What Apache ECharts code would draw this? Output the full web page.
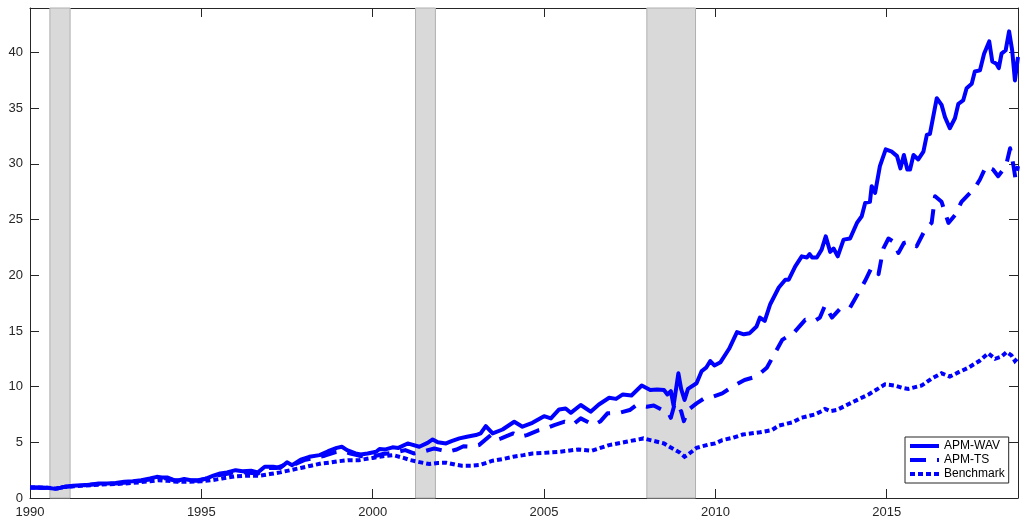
<!DOCTYPE html>
<html>
<head>
<meta charset="utf-8">
<script src="https://cdn.jsdelivr.net/npm/echarts@6/dist/echarts.min.js"></script>
<style>
html,body{margin:0;padding:0;background:#fff;}
#c{width:1021px;height:529px;}
</style>
</head>
<body>
<div id="c"></div>
<script>
// ---- data ----
const seriesNames = ['APM-WAV', 'APM-TS', 'Benchmark'];
const xTickLabels = ['1990', '1995', '2000', '2005', '2010', '2015'];
const yTickLabels = ['0', '5', '10', '15', '20', '25', '30', '35', '40'];

const recessionStart = [1990.58, 2001.25, 2008.0];
const recessionEnd   = [1991.17, 2001.83, 2009.42];

const wavDates = [1990.0,1990.25,1990.5,1990.75,1991.0,1991.25,1991.5,1991.75,1992.0,1992.25,1992.5,1992.75,1993.0,1993.25,1993.5,1993.7,1993.85,1994.0,1994.2,1994.35,1994.5,1994.7,1994.9,1995.1,1995.35,1995.55,1995.75,1996.0,1996.2,1996.45,1996.65,1996.85,1997.1,1997.3,1997.5,1997.65,1997.9,1998.15,1998.45,1998.7,1998.95,1999.1,1999.25,1999.5,1999.65,1999.85,2000.1,2000.2,2000.35,2000.58,2000.75,2001.02,2001.36,2001.6,2001.75,2001.9,2002.14,2002.3,2002.53,2002.75,2003.01,2003.15,2003.3,2003.5,2003.79,2004.13,2004.37,2004.66,2005.0,2005.2,2005.44,2005.63,2005.78,2006.07,2006.36,2006.6,2006.9,2007.1,2007.3,2007.55,2007.85,2008.1,2008.3,2008.5,2008.6,2008.7,2008.78,2008.92,2009.0,2009.1,2009.2,2009.45,2009.6,2009.73,2009.85,2009.97,2010.15,2010.4,2010.63,2010.83,2011.0,2011.2,2011.3,2011.44,2011.6,2011.85,2012.04,2012.14,2012.33,2012.52,2012.67,2012.75,2012.82,2012.96,2013.1,2013.22,2013.35,2013.45,2013.57,2013.74,2013.93,2014.13,2014.27,2014.37,2014.51,2014.56,2014.66,2014.8,2014.97,2015.15,2015.3,2015.4,2015.5,2015.6,2015.68,2015.78,2015.92,2016.07,2016.17,2016.26,2016.46,2016.6,2016.7,2016.84,2016.99,2017.09,2017.23,2017.33,2017.48,2017.57,2017.72,2017.84,2017.99,2018.08,2018.2,2018.27,2018.35,2018.47,2018.57,2018.66,2018.74,2018.83];
const wavValues = [0.95,0.95,0.92,0.82,1.0,1.1,1.15,1.2,1.3,1.3,1.35,1.45,1.5,1.6,1.75,1.9,1.85,1.85,1.6,1.6,1.7,1.6,1.6,1.7,2.0,2.2,2.3,2.5,2.4,2.45,2.3,2.8,2.8,2.7,3.2,2.95,3.45,3.7,3.85,4.2,4.5,4.6,4.3,4.0,3.9,4.0,4.15,4.4,4.35,4.55,4.5,4.9,4.6,4.95,5.26,5.0,4.9,5.1,5.35,5.5,5.65,5.8,6.45,5.8,6.15,6.85,6.4,6.75,7.35,7.15,7.95,8.04,7.65,8.35,7.75,8.4,9.0,8.9,9.3,9.2,10.1,9.7,9.75,9.7,9.3,9.6,8.3,11.2,9.8,8.8,9.8,10.3,11.4,11.7,12.3,11.9,12.2,13.4,14.9,14.7,14.8,15.4,16.2,15.9,17.4,18.9,19.6,19.6,20.8,21.7,21.6,21.9,21.6,21.6,22.3,23.5,22.1,22.4,21.7,23.2,23.3,24.7,25.3,26.5,26.6,28.0,27.4,29.8,31.3,31.1,30.7,29.6,30.8,29.5,29.5,30.8,30.4,31.1,32.6,32.7,35.9,35.3,34.2,33.2,34.1,35.4,35.7,36.8,37.2,38.3,38.4,39.9,41.0,39.2,39.0,38.6,39.9,40.2,41.9,40.2,37.5,39.6];

const tsDates = [1990.0,1990.5,1990.75,1991.0,1991.5,1992.0,1992.5,1993.0,1993.5,1993.75,1994.0,1994.25,1994.5,1994.9,1995.25,1995.5,1995.8,1996.0,1996.3,1996.65,1996.9,1997.2,1997.5,1997.75,1998.0,1998.3,1998.6,1998.9,1999.1,1999.35,1999.6,1999.85,2000.05,2000.3,2000.6,2000.95,2001.2,2001.45,2001.8,2002.0,2002.2,2002.45,2002.65,2002.9,2003.1,2003.45,2003.6,2003.75,2004.1,2004.3,2004.5,2004.85,2005.1,2005.3,2005.6,2005.85,2006.07,2006.45,2006.65,2006.85,2007.2,2007.5,2007.7,2008.0,2008.2,2008.45,2008.6,2008.7,2008.8,2008.88,2009.0,2009.08,2009.2,2009.45,2009.65,2009.85,2010.2,2010.5,2010.85,2011.2,2011.5,2011.7,2011.95,2012.1,2012.28,2012.62,2012.9,2013.05,2013.2,2013.4,2013.64,2013.93,2014.17,2014.37,2014.56,2014.76,2014.9,2015.05,2015.2,2015.34,2015.5,2015.63,2015.87,2016.12,2016.31,2016.41,2016.6,2016.8,2016.99,2017.18,2017.43,2017.6,2017.72,2017.9,2018.1,2018.25,2018.4,2018.5,2018.6,2018.7,2018.76,2018.83];
const tsValues = [0.95,0.9,0.82,1.0,1.12,1.25,1.3,1.45,1.65,1.8,1.75,1.55,1.6,1.55,1.85,2.05,2.2,2.35,2.3,2.2,2.7,2.7,3.05,3.05,3.4,3.6,3.8,4.1,4.2,4.0,3.8,3.7,3.75,3.95,4.05,4.3,4.0,4.15,4.45,4.3,4.15,4.35,4.65,4.6,4.75,5.65,5.2,5.35,5.8,5.5,5.65,6.1,6.3,6.55,6.85,6.6,7.15,6.55,6.9,7.6,7.65,7.9,8.35,8.2,8.3,7.9,7.8,7.2,8.3,7.6,7.8,6.9,7.9,8.5,8.9,9.0,9.4,10.0,10.6,10.9,11.7,12.8,14.2,14.5,14.8,16.0,15.9,16.2,17.3,16.2,17.0,17.1,18.4,19.5,20.7,20.1,22.4,23.3,23.0,22.0,22.9,23.0,22.6,24.1,24.7,27.1,26.6,24.7,25.4,26.6,27.4,28.0,28.6,29.8,29.5,28.9,29.5,30.1,31.4,29.8,28.6,29.8];

const bmDates = [1990.0,1990.5,1990.75,1991.0,1991.5,1992.0,1992.5,1993.0,1993.5,1993.75,1994.0,1994.3,1994.6,1995.0,1995.3,1995.6,1996.0,1996.3,1996.7,1997.0,1997.3,1997.6,1997.9,1998.2,1998.5,1998.8,1999.0,1999.3,1999.6,2000.0,2000.3,2000.6,2000.9,2001.1,2001.4,2001.65,2001.9,2002.15,2002.4,2002.6,2002.9,2003.12,2003.5,2003.8,2004.1,2004.4,2004.66,2005.0,2005.44,2006.0,2006.4,2006.9,2007.4,2007.9,2008.3,2008.5,2008.66,2008.95,2009.1,2009.2,2009.45,2009.8,2010.0,2010.2,2010.5,2010.8,2011.3,2011.65,2011.85,2012.25,2012.5,2012.9,2013.1,2013.2,2013.35,2013.54,2014.0,2014.47,2014.95,2015.24,2015.45,2015.63,2016.02,2016.3,2016.6,2016.84,2017.1,2017.38,2017.7,2017.96,2018.16,2018.35,2018.5,2018.64,2018.74,2018.83];
const bmValues = [0.95,0.92,0.85,1.0,1.1,1.2,1.25,1.35,1.5,1.6,1.55,1.45,1.45,1.5,1.6,1.75,1.95,2.0,2.0,2.15,2.3,2.5,2.7,2.9,3.1,3.2,3.3,3.4,3.4,3.6,3.75,3.85,3.6,3.4,3.2,3.05,3.15,3.17,3.0,2.9,2.9,2.96,3.35,3.5,3.7,3.85,4.0,4.05,4.15,4.36,4.25,4.75,5.05,5.35,5.05,4.9,4.6,4.1,3.7,3.9,4.5,4.8,4.9,5.2,5.4,5.7,5.9,6.1,6.5,6.8,7.2,7.5,7.8,8.0,7.8,7.9,8.6,9.3,10.2,10.1,9.9,9.8,10.1,10.7,11.2,10.9,11.3,11.7,12.3,13.0,12.5,12.7,13.1,12.8,12.3,12.6];

// ---- chart ----
const pair = (xs, ys) => xs.map((x, i) => [x, ys[i]]);
const axisColor = '#262626';
const X_MIN = 1990, X_MAX = 2018.83, Y_MIN = 0, Y_MAX = 44;

const xBase = {
  type: 'value', min: X_MIN, max: X_MAX, interval: 5,
  splitLine: { show: false },
  axisLine: { show: true, onZero: false, lineStyle: { color: axisColor, width: 1 } },
  axisTick: { show: true, inside: true, length: 9, lineStyle: { color: axisColor } }
};
const yBase = {
  type: 'value', min: Y_MIN, max: Y_MAX, interval: 5,
  splitLine: { show: false },
  axisLine: { show: true, onZero: false, lineStyle: { color: axisColor, width: 1 } },
  axisTick: { show: true, inside: true, length: 9, lineStyle: { color: axisColor } }
};

const recAreas = recessionStart.map((s, i) => [{ xAxis: s }, { xAxis: recessionEnd[i] }]);

const option = {
  backgroundColor: '#ffffff',
  animation: false,
  grid: { left: 30, right: 1, top: 8, bottom: 31, show: false },
  xAxis: [
    Object.assign({}, xBase, {
      position: 'bottom',
      axisLabel: {
        show: true, margin: 8, color: axisColor, fontSize: 13,
        fontFamily: 'Liberation Sans, Arial, sans-serif',
        formatter: v => (xTickLabels.includes(String(Math.round(v))) ? String(Math.round(v)) : '')
      }
    }),
    Object.assign({}, xBase, { position: 'top', axisLabel: { show: false } })
  ],
  yAxis: [
    Object.assign({}, yBase, {
      position: 'left',
      axisLabel: {
        show: true, margin: 7, color: axisColor, fontSize: 13,
        fontFamily: 'Liberation Sans, Arial, sans-serif',
        formatter: v => (yTickLabels.includes(String(v)) ? String(v) : '')
      }
    }),
    Object.assign({}, yBase, { position: 'right', axisLabel: { show: false } })
  ],
  legend: {
    data: seriesNames,
    orient: 'vertical',
    left: 905, top: 437,
    padding: [2, 4, 2, 3],
    itemWidth: 29, itemHeight: 10, itemGap: 0,
    backgroundColor: '#ffffff',
    borderColor: '#262626', borderWidth: 1, borderRadius: 0,
    itemStyle: { opacity: 0 },
    lineStyle: { width: 4 },
    textStyle: { color: '#000000', fontSize: 12, lineHeight: 14,
      fontFamily: 'Liberation Sans, Arial, sans-serif' }
  },
  series: [
    {
      name: 'recessions', type: 'line', data: [], silent: true,
      markArea: {
        silent: true,
        itemStyle: { color: '#d9d9d9', borderColor: '#b0b0b0', borderWidth: 1 },
        data: recAreas
      },
      z: 1
    },
    {
      name: seriesNames[0], type: 'line', showSymbol: false, symbol: 'none',
      data: pair(wavDates, wavValues),
      lineStyle: { color: '#0000ff', width: 4, type: 'solid', cap: 'butt', join: 'round' },
      itemStyle: { color: '#0000ff' }, z: 5
    },
    {
      name: seriesNames[1], type: 'line', showSymbol: false, symbol: 'none',
      data: pair(tsDates, tsValues),
      lineStyle: { color: '#0000ff', width: 4, type: [16, 11], cap: 'butt', join: 'round' },
      itemStyle: { color: '#0000ff' }, z: 4
    },
    {
      name: seriesNames[2], type: 'line', showSymbol: false, symbol: 'none',
      data: pair(bmDates, bmValues),
      lineStyle: { color: '#0000ff', width: 4, type: [5, 3], cap: 'butt', join: 'miter' },
      itemStyle: { color: '#0000ff' }, z: 3
    }
  ]
};

const chart = echarts.init(document.getElementById('c'), null, { renderer: 'canvas' });
chart.setOption(option);
</script>
</body>
</html>
